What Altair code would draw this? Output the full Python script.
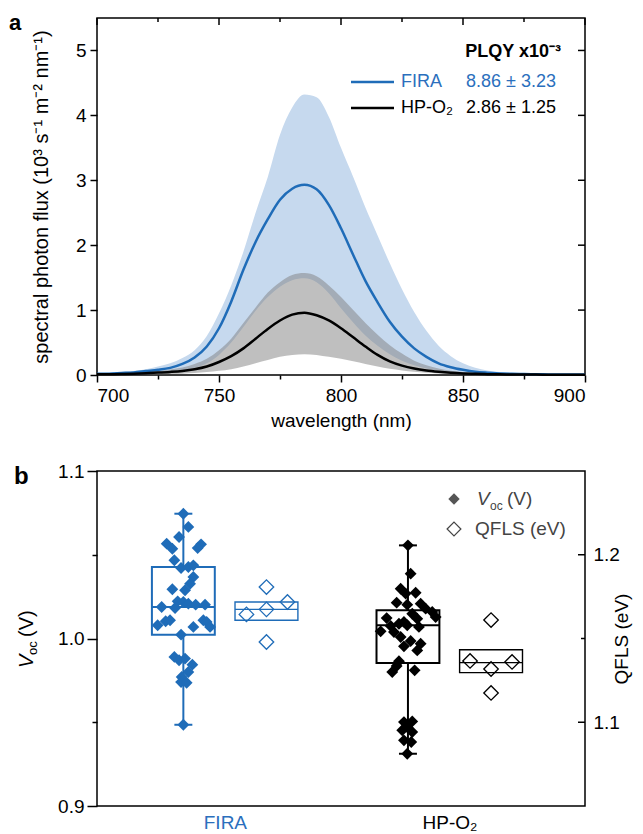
import altair as alt
import pandas as pd

FONT = "Liberation Sans"
BLUE = "#1f6cb8"
BLUE_TEXT = "#2b6fbd"
BLUE_BAND = "#c6d9ee"
GREY_BAND = "#808080"
Q_BLUE = "#3a5ba8"
Q_BLUE_BOX = "#6e8fc9"

# ---------------- panel a data ----------------
wavelength = list(range(700, 901, 5))
fira_mean = [0.02, 0.02, 0.03, 0.04, 0.06, 0.08, 0.11, 0.17, 0.27, 0.44, 0.72, 1.13, 1.62, 2.05, 2.40,
             2.70, 2.87, 2.93, 2.86, 2.62, 2.26, 1.85, 1.45, 1.12, 0.82, 0.59, 0.41, 0.28, 0.18, 0.12,
             0.08, 0.05, 0.035, 0.025, 0.018, 0.014, 0.011, 0.009, 0.008, 0.007, 0.006]
fira_upper = [0.03, 0.035, 0.045, 0.06, 0.09, 0.13, 0.18, 0.26, 0.38, 0.6, 0.95, 1.38, 1.9, 2.5, 3.05,
              3.70, 4.12, 4.32, 4.28, 3.98, 3.5, 3.05, 2.58, 2.15, 1.72, 1.32, 0.97, 0.68, 0.45, 0.29,
              0.18, 0.11, 0.07, 0.045, 0.03, 0.025, 0.02, 0.017, 0.015, 0.013, 0.011]
fira_lower = [0.01, 0.012, 0.015, 0.02, 0.03, 0.04, 0.055, 0.075, 0.11, 0.18, 0.31, 0.5, 0.74, 0.99, 1.2,
              1.36, 1.46, 1.49, 1.43, 1.26, 1.03, 0.81, 0.61, 0.45, 0.32, 0.22, 0.15, 0.1, 0.065, 0.042,
              0.028, 0.019, 0.013, 0.009, 0.007, 0.006, 0.005, 0.004, 0.004, 0.003, 0.003]
hp_mean = [0.01, 0.012, 0.015, 0.02, 0.028, 0.037, 0.048, 0.063, 0.088, 0.13, 0.2, 0.29, 0.41, 0.56, 0.71,
           0.84, 0.93, 0.96, 0.92, 0.84, 0.72, 0.58, 0.44, 0.31, 0.21, 0.145, 0.10, 0.07, 0.05, 0.035,
           0.025, 0.018, 0.013, 0.01, 0.008, 0.007, 0.006, 0.005, 0.005, 0.004, 0.004]
hp_upper = [0.02, 0.022, 0.026, 0.035, 0.048, 0.063, 0.085, 0.115, 0.17, 0.25, 0.38, 0.56, 0.8, 1.04, 1.27,
            1.43, 1.54, 1.57, 1.52, 1.38, 1.2, 1.0, 0.8, 0.62, 0.46, 0.33, 0.22, 0.15, 0.10, 0.065,
            0.045, 0.03, 0.02, 0.015, 0.012, 0.01, 0.008, 0.007, 0.006, 0.005, 0.005]
hp_lower = [0.003, 0.004, 0.005, 0.006, 0.008, 0.01, 0.014, 0.02, 0.03, 0.045, 0.065, 0.09, 0.13, 0.18, 0.23,
            0.28, 0.31, 0.32, 0.31, 0.28, 0.25, 0.21, 0.17, 0.13, 0.095, 0.07, 0.05, 0.035, 0.025, 0.019,
            0.014, 0.011, 0.008, 0.006, 0.005, 0.004, 0.004, 0.003, 0.003, 0.002, 0.002]
wl_ticks = list(range(700, 901, 25))
flux_ticks = [0, 1, 2, 3, 4, 5]

groups = ["FIRA", "HP-O₂"]
plqy_values = ["8.86 ± 3.23", "2.86 ± 1.25"]

# ---------------- panel b data ----------------
fira_voc = [1.0745, 1.0666, 1.0606, 1.0566, 1.0536, 1.0562, 1.054, 1.0467, 1.0421, 1.0427,
            1.0437, 1.0367, 1.0327, 1.0288, 1.0294, 1.0222, 1.0218, 1.0188, 1.0182, 1.0208,
            1.0202, 1.0202, 1.0079, 1.0103, 1.0109, 1.0069, 1.0109, 1.0099, 1.0069, 1.0023,
            0.9890, 0.9870, 0.9880, 0.9844, 0.9800, 0.9770, 0.9740, 0.9736, 0.9485]
fira_jitter_px = [0, 5, -4.3, -16.7, -11, 17.7, 14.3, -9, -2.3, 5,
                  10, 10, 6.7, 1.7, -11, -5.7, 0, -21.7, -8.3, 5,
                  12.3, 21.7, -25.7, -17.7, -13.3, 10, 20, 23.3, 26.7, -2.3,
                  -9, -4.3, 1.7, 9, 5, -1.7, -2.3, 3.3, 0]
hp_voc = [1.0556, 1.0387, 1.0297, 1.0268, 1.0273, 1.0214, 1.0202, 1.0208, 1.0178, 1.0158,
          1.0128, 1.0122, 1.0148, 1.0118, 1.0099, 1.0088, 1.0075, 1.0043, 1.0039, 1.0079,
          1.0069, 1.0009, 0.9985, 0.9969, 0.9953, 0.9929, 0.9864, 0.9836, 0.9800, 0.9810,
          0.9501, 0.9505, 0.9472, 0.9452, 0.9442, 0.9392, 0.9382, 0.9312]
hp_jitter_px = [0, 2.7, -7.3, -2.3, 7.7, -11.3, -0.7, 12.7, 17.7, 24.3,
                27.7, -21.3, 4.3, 9.3, -4, -9, -17.3, -27.3, -14, -0.7,
                11, -7.3, 2.7, 12.7, -4, 9.3, -9, -11.3, -15.7, 6.7,
                -4, 4.3, -0.7, -5.7, 4.3, -4, 3.3, -0.7]
fira_qfls = [1.1644, 1.1807, 1.1674, 1.1718, 1.1479]
fira_qfls_jitter_px = [-20, 0, 0, 21, 0]
hp_qfls = [1.1610, 1.1366, 1.1318, 1.1360, 1.1175]
hp_qfls_jitter_px = [0, -21, 0, 21, 0]

voc_q1 = [1.0023, 0.9854]
voc_med = [1.0188, 1.0079]
voc_q3 = [1.0427, 1.0168]
voc_lo = [0.9485, 0.9312]
voc_hi = [1.0745, 1.0556]
qfls_q1 = [1.1609, 1.1296]
qfls_med = [1.1674, 1.1356]
qfls_q3 = [1.1718, 1.1433]

voc_ticks = [0.9, 0.95, 1.0, 1.05, 1.1]
qfls_label_ticks = [1.1, 1.2]
qfls_major_ticks = [1.1, 1.2]
qfls_minor_ticks = [1.15]

# ---------------- layout constants ----------------
W, H1, H2 = 488, 357, 335
X0, X1 = -0.5695, 1.6033
PX_PER_UNIT = W / (X1 - X0)
VOC_OFF, QFLS_OFF = -0.185, 0.185
BOX_HALF, CAP_HALF = 0.14, 0.04
LBL = 19

# ---------------- panel a ----------------
spec = pd.DataFrame({"wl": wavelength, "fm": fira_mean, "fu": fira_upper, "fl": fira_lower,
                     "hm": hp_mean, "hu": hp_upper, "hl": hp_lower})
wl_scale = alt.Scale(domain=[700, 900], nice=False, zero=False)
flux_scale = alt.Scale(domain=[0, 5.5], nice=False, zero=False)
major_wl = "datum.value % 50 === 0"
wl_tick_size = {"condition": {"test": major_wl, "value": 7}, "value": 4}

x_axis_main = alt.Axis(values=wl_ticks, labelExpr=f"{major_wl} ? datum.label : ''",
                       tickSize=wl_tick_size, domain=False, labelFontSize=LBL, labelPadding=4,
                       title="wavelength (nm)", titleFontSize=19, titleFontWeight="normal",
                       titlePadding=6, grid=False)
y_axis_main = alt.Axis(values=flux_ticks, tickSize=7, domain=False, labelFontSize=LBL, labelPadding=4,
                       title="spectral photon flux (10³ s⁻¹ m⁻² nm⁻¹)", titleFontSize=20,
                       titleFontWeight="normal", titlePadding=24, grid=False)

band_f = alt.Chart(spec).mark_area(color=BLUE_BAND, opacity=1, interpolate="monotone").encode(
    x=alt.X("wl:Q", scale=wl_scale, axis=x_axis_main),
    y=alt.Y("fu:Q", scale=flux_scale, axis=y_axis_main),
    y2="fl:Q")
band_h = alt.Chart(spec).mark_area(color=GREY_BAND, opacity=0.5, interpolate="monotone").encode(
    x=alt.X("wl:Q", scale=wl_scale, axis=None),
    y=alt.Y("hu:Q", scale=flux_scale, axis=None),
    y2="hl:Q")
line_f = alt.Chart(spec).mark_line(color=BLUE, strokeWidth=2.5, interpolate="monotone").encode(
    x=alt.X("wl:Q", scale=wl_scale, axis=None),
    y=alt.Y("fm:Q", scale=flux_scale, axis=None))
line_h = alt.Chart(spec).mark_line(color="black", strokeWidth=2.5, interpolate="monotone").encode(
    x=alt.X("wl:Q", scale=wl_scale, axis=None),
    y=alt.Y("hm:Q", scale=flux_scale, axis=None))

# mirrored inward ticks on the top and right frame edges
wl_major = pd.DataFrame({"wl": [v for v in wl_ticks if v % 50 == 0]})
wl_minor = pd.DataFrame({"wl": [v for v in wl_ticks if v % 50 != 0]})
top_major = alt.Chart(wl_major).mark_rule(color="black", strokeWidth=1.5).encode(
    x=alt.X("wl:Q", scale=wl_scale, axis=None), y=alt.value(0), y2=alt.value(7))
top_minor = alt.Chart(wl_minor).mark_rule(color="black", strokeWidth=1.5).encode(
    x=alt.X("wl:Q", scale=wl_scale, axis=None), y=alt.value(0), y2=alt.value(4))
right_a = alt.Chart(pd.DataFrame({"v": flux_ticks})).mark_rule(color="black", strokeWidth=1.5).encode(
    y=alt.Y("v:Q", scale=flux_scale, axis=None), x=alt.value(W - 7), x2=alt.value(W))


def txt(s, x, y, size=18, color="black", weight="normal", style="normal",
        align="left", baseline="middle", angle=0):
    return alt.Chart(pd.DataFrame({"t": [s]})).mark_text(
        align=align, baseline=baseline, fontSize=size, color=color, fontWeight=weight,
        fontStyle=style, font=FONT, angle=angle).encode(
        x=alt.value(x), y=alt.value(y), text="t:N")


def sample_line(color, x1, x2, y):
    return alt.Chart(pd.DataFrame({"k": [0]})).mark_rule(color=color, strokeWidth=2.5).encode(
        x=alt.value(x1), x2=alt.value(x2), y=alt.value(y))


top = alt.layer(
    band_f, band_h, line_f, line_h, top_major, top_minor, right_a,
    txt("PLQY x10⁻³", 464, 34, 18, weight="bold", align="right"),
    sample_line(BLUE, 254, 297, 64),
    txt(groups[0], 304, 64, color=BLUE_TEXT),
    txt(plqy_values[0], 369, 64, color=BLUE_TEXT),
    sample_line("black", 254, 297, 90),
    txt(groups[1], 304, 90),
    txt(plqy_values[1], 369, 90),
    txt("a", -88, 12, 22, weight="bold", baseline="alphabetic"),
).properties(width=W, height=H1).resolve_axis(x="independent", y="independent")

# ---------------- panel b ----------------
gi = [0, 1]
box = pd.DataFrame({"group": groups, "gi": gi, "q1": voc_q1, "med": voc_med, "q3": voc_q3,
                    "lo": voc_lo, "hi": voc_hi,
                    "qq1": qfls_q1, "qmed": qfls_med, "qq3": qfls_q3})
box["xc"] = box["gi"] + VOC_OFF
box["xl"] = box["xc"] - BOX_HALF
box["xr"] = box["xc"] + BOX_HALF
box["cl"] = box["xc"] - CAP_HALF
box["cr"] = box["xc"] + CAP_HALF
box["qxc"] = box["gi"] + QFLS_OFF
box["qxl"] = box["qxc"] - BOX_HALF
box["qxr"] = box["qxc"] + BOX_HALF

gidx = {g: i for i, g in enumerate(groups)}
voc = pd.DataFrame({
    "group": [groups[0]] * len(fira_voc) + [groups[1]] * len(hp_voc),
    "v": fira_voc + hp_voc,
    "j": fira_jitter_px + hp_jitter_px,
})
voc["x"] = voc["group"].map(gidx) + VOC_OFF + voc["j"] / PX_PER_UNIT

qf = pd.DataFrame({
    "group": [groups[0]] * len(fira_qfls) + [groups[1]] * len(hp_qfls),
    "q": fira_qfls + hp_qfls,
    "j": fira_qfls_jitter_px + hp_qfls_jitter_px,
})
qf["x"] = qf["group"].map(gidx) + QFLS_OFF + qf["j"] / PX_PER_UNIT

xs = alt.Scale(domain=[X0, X1], nice=False, zero=False)
voc_scale = alt.Scale(domain=[0.9, 1.1], nice=False, zero=False)
qfls_scale = alt.Scale(domain=[1.05, 1.25], nice=False, zero=False)
col = alt.Scale(domain=groups, range=[BLUE, "black"])
qcol = alt.Scale(domain=groups, range=[Q_BLUE, "#333333"])
qboxcol = alt.Scale(domain=groups, range=[Q_BLUE_BOX, "#666666"])

major_v = "abs(datum.value * 10 - round(datum.value * 10)) < 0.001"
x_cat_axis = alt.Axis(values=gi, labelExpr="datum.value < 0.5 ? 'FIRA' : 'HP-O₂'", ticks=False,
                      domain=False, labelFontSize=LBL, labelPadding=7, title=None, grid=False,
                      labelColor={"condition": {"test": "datum.value < 0.5", "value": BLUE_TEXT},
                                  "value": "black"})
voc_axis = alt.Axis(values=voc_ticks, labelExpr=f"{major_v} ? format(datum.value, '.1f') : ''",
                    tickSize={"condition": {"test": major_v, "value": 10}, "value": 5},
                    domain=False, labelFontSize=LBL, labelPadding=3, title=None, grid=False)
qfls_axis = alt.Axis(orient="right", values=qfls_label_ticks, format=".1f", ticks=False, domain=False,
                     labelFontSize=LBL, labelPadding=8, title="QFLS (eV)", titleFontSize=19,
                     titleFontWeight="normal", titleAngle=270, titlePadding=12, grid=False)

vbox = alt.Chart(box).mark_rect(fillOpacity=0, strokeWidth=2).encode(
    x=alt.X("xl:Q", scale=xs, axis=x_cat_axis), x2="xr:Q",
    y=alt.Y("q3:Q", scale=voc_scale, axis=voc_axis), y2="q1:Q",
    stroke=alt.Stroke("group:N", scale=col, legend=None))
vmed = alt.Chart(box).mark_rule(strokeWidth=2).encode(
    x=alt.X("xl:Q", scale=xs, axis=None), x2="xr:Q",
    y=alt.Y("med:Q", scale=voc_scale, axis=None),
    color=alt.Color("group:N", scale=col, legend=None))
wh_up = alt.Chart(box).mark_rule(strokeWidth=2).encode(
    x=alt.X("xc:Q", scale=xs, axis=None),
    y=alt.Y("q3:Q", scale=voc_scale, axis=None), y2="hi:Q",
    color=alt.Color("group:N", scale=col, legend=None))
wh_lo = alt.Chart(box).mark_rule(strokeWidth=2).encode(
    x=alt.X("xc:Q", scale=xs, axis=None),
    y=alt.Y("lo:Q", scale=voc_scale, axis=None), y2="q1:Q",
    color=alt.Color("group:N", scale=col, legend=None))
cap_up = alt.Chart(box).mark_rule(strokeWidth=2).encode(
    x=alt.X("cl:Q", scale=xs, axis=None), x2="cr:Q",
    y=alt.Y("hi:Q", scale=voc_scale, axis=None),
    color=alt.Color("group:N", scale=col, legend=None))
cap_lo = alt.Chart(box).mark_rule(strokeWidth=2).encode(
    x=alt.X("cl:Q", scale=xs, axis=None), x2="cr:Q",
    y=alt.Y("lo:Q", scale=voc_scale, axis=None),
    color=alt.Color("group:N", scale=col, legend=None))
vpts = alt.Chart(voc).mark_point(shape="diamond", filled=True, size=140, opacity=1).encode(
    x=alt.X("x:Q", scale=xs, axis=None),
    y=alt.Y("v:Q", scale=voc_scale, axis=None),
    color=alt.Color("group:N", scale=col, legend=None))

qbox = alt.Chart(box).mark_rect(fillOpacity=0, strokeWidth=1.4).encode(
    x=alt.X("qxl:Q", scale=xs, axis=None), x2="qxr:Q",
    y=alt.Y("qq3:Q", scale=qfls_scale, axis=qfls_axis), y2="qq1:Q",
    stroke=alt.Stroke("group:N", scale=qboxcol, legend=None))
qmed = alt.Chart(box).mark_rule(strokeWidth=1.4).encode(
    x=alt.X("qxl:Q", scale=xs, axis=None), x2="qxr:Q",
    y=alt.Y("qmed:Q", scale=qfls_scale, axis=None),
    color=alt.Color("group:N", scale=qboxcol, legend=None))
qpts = alt.Chart(qf).mark_point(shape="diamond", filled=False, size=210, strokeWidth=1.3,
                                opacity=1).encode(
    x=alt.X("x:Q", scale=xs, axis=None),
    y=alt.Y("q:Q", scale=qfls_scale, axis=None),
    stroke=alt.Stroke("group:N", scale=qcol, legend=None))

q_major = alt.Chart(pd.DataFrame({"q": qfls_major_ticks})).mark_rule(color="black", strokeWidth=1.5).encode(
    y=alt.Y("q:Q", scale=qfls_scale, axis=None), x=alt.value(W - 7), x2=alt.value(W))
q_minor = alt.Chart(pd.DataFrame({"q": qfls_minor_ticks})).mark_rule(color="black", strokeWidth=1.5).encode(
    y=alt.Y("q:Q", scale=qfls_scale, axis=None), x=alt.value(W - 4), x2=alt.value(W))

leg_fill = alt.Chart(pd.DataFrame({"k": [0]})).mark_point(
    shape="diamond", filled=True, size=130, color="#555555", opacity=1).encode(
    x=alt.value(357), y=alt.value(28))
leg_open = alt.Chart(pd.DataFrame({"k": [0]})).mark_point(
    shape="diamond", filled=False, size=190, color="#444444", strokeWidth=1.2, opacity=1).encode(
    x=alt.value(357), y=alt.value(58))

bottom = alt.layer(
    vbox, vmed, wh_up, wh_lo, cap_up, cap_lo, vpts, qbox, qmed, qpts, q_major, q_minor,
    leg_fill, leg_open,
    txt("V", 380, 28, 19, color="#444444", style="italic"),
    txt("oc", 393, 35, 12, color="#444444"),
    txt("(V)", 410, 28, 19, color="#444444"),
    txt("QFLS (eV)", 378, 58, 19, color="#444444"),
    txt("V", -64, 197, 20, style="italic", baseline="alphabetic", angle=270),
    txt("oc", -60, 184, 13, baseline="alphabetic", angle=270),
    txt("(V)", -64, 166, 20, baseline="alphabetic", angle=270),
    txt("b", -83, 13, 24, weight="bold", baseline="alphabetic"),
).properties(width=W, height=H2).resolve_scale(y="independent").resolve_axis(
    x="independent", y="independent")

chart = alt.vconcat(top, bottom, spacing=96).properties(
    bounds="flush", padding={"left": 0, "top": 3, "right": 0, "bottom": 0},
    background="white"
).configure_view(stroke="black", strokeWidth=1.5).configure_axis(
    labelFont=FONT, titleFont=FONT, labelColor="black", titleColor="black",
    tickColor="black", tickWidth=1.5)

chart.save("out.html", embed_options={"renderer": "svg", "actions": False})
